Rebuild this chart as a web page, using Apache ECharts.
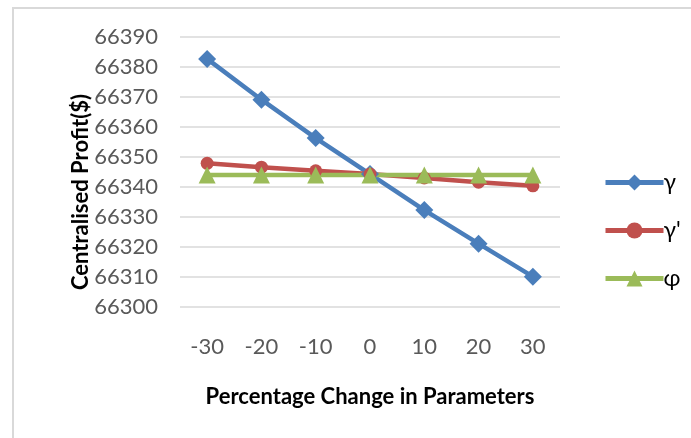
<!DOCTYPE html>
<html><head><meta charset="utf-8">
<script src="https://cdn.jsdelivr.net/npm/echarts@6/dist/echarts.min.js"></script>
<style>html,body{margin:0;padding:0;background:#fff}#c{width:691px;height:438px}</style>
</head><body><div id="c"></div>
<script>
const categories = ['-30','-20','-10','0','10','20','30'];
const gamma = [66382.7, 66369.1, 66356.3, 66344.3, 66332.3, 66321.1, 66310.1];
const gammaPrime = [66347.9, 66346.6, 66345.4, 66344.3, 66343.0, 66341.6, 66340.4];
const phi = [66344, 66344, 66344, 66344, 66344, 66344, 66344];
const yTicks = {min: 66300, max: 66390, interval: 10};

const chart = echarts.init(document.getElementById('c'), null, {renderer: 'canvas'});
const font = 'Lato, "Open Sans", sans-serif';
chart.setOption({
  animation: false,
  graphic: [{type: 'rect', shape: {x: 13, y: 8, width: 720, height: 470},
    style: {fill: 'none', stroke: '#d9d9d9', lineWidth: 2}, silent: true}],
  grid: {left: 180, right: 131, top: 37, bottom: 131, containLabel: false},
  xAxis: {
    type: 'category', data: categories, boundaryGap: true,
    name: 'Percentage Change in Parameters', nameLocation: 'middle', nameGap: 79,
    nameTextStyle: {fontFamily: font, fontWeight: 'bold', fontSize: 22, color: '#000'},
    axisLine: {show: false}, axisTick: {show: false},
    axisLabel: {fontFamily: font, fontSize: 22, color: '#595959', margin: 29}
  },
  yAxis: {
    type: 'value', min: yTicks.min, max: yTicks.max, interval: yTicks.interval,
    name: 'Centralised Profit($)', nameLocation: 'middle', nameGap: 88, nameRotate: 90,
    nameMoveOverlap: false,
    nameTextStyle: {fontFamily: font, fontWeight: 'bold', fontSize: 22, color: '#000',
      padding: [0, 40, 0, 0]},
    axisLine: {show: false}, axisTick: {show: false},
    axisLabel: {fontFamily: font, fontSize: 22, color: '#595959', margin: 22,
      formatter: v => String(v)},
    splitLine: {lineStyle: {color: '#d9d9d9', width: 1.5}}
  },
  legend: {
    orient: 'vertical', left: 598, top: 166, itemWidth: 58, itemHeight: 20, itemGap: 25,
    lineStyle: {width: 5},
    textStyle: {fontFamily: font, fontSize: 23, color: '#000', padding: [0,0,0,-5]},
    data: ['γ', "γ'", 'φ']
  },
  series: [
    {name: 'γ', type: 'line', data: gamma, symbol: 'diamond', symbolSize: 18,
      lineStyle: {color: '#4a7ebb', width: 4.5}, itemStyle: {color: '#4a7ebb'}},
    {name: "γ'", type: 'line', data: gammaPrime, symbol: 'circle', symbolSize: 13,
      lineStyle: {color: '#c0504d', width: 4.5}, itemStyle: {color: '#c0504d'}},
    {name: 'φ', type: 'line', data: phi, symbol: 'triangle', symbolSize: 17,
      lineStyle: {color: '#9bbb59', width: 4.5}, itemStyle: {color: '#9bbb59'}}
  ]
});
</script></body></html>
